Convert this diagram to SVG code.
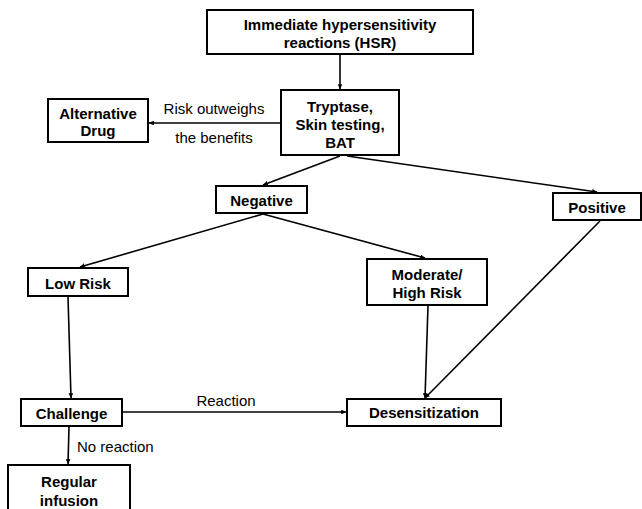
<svg xmlns="http://www.w3.org/2000/svg" width="642" height="509" viewBox="0 0 642 509">
<style>
.box{fill:#fff;stroke:#000;stroke-width:2}
.t{font-family:"Liberation Sans",Arial,sans-serif;font-size:15px;font-weight:bold;text-anchor:middle;fill:#000}
.l{font-family:"Liberation Sans",Arial,sans-serif;font-size:15px;fill:#000}
.c{fill:none;stroke:#000;stroke-width:1.6;marker-end:url(#ah)}
</style>
<defs>
<marker id="ah" viewBox="0 0 6 6" refX="6" refY="3" markerWidth="3" markerHeight="3" orient="auto" markerUnits="strokeWidth">
<path d="M0,0 L6,3 L0,6 z" fill="#000"/>
</marker>
</defs>
<rect width="642" height="509" fill="#fff"/>
<g id="connectors">
<line class="c" x1="340" y1="55" x2="340" y2="89"/>
<line class="c" x1="281" y1="123" x2="149" y2="123"/>
<line class="c" x1="340" y1="156" x2="263" y2="185"/>
<line class="c" x1="347" y1="156" x2="597" y2="192"/>
<line class="c" x1="263" y1="214" x2="80" y2="267"/>
<line class="c" x1="263" y1="214" x2="425" y2="258"/>
<line class="c" x1="600" y1="221" x2="425" y2="398"/>
<line class="c" x1="428" y1="306" x2="425" y2="398"/>
<line class="c" x1="68" y1="297" x2="71" y2="398"/>
<line class="c" x1="69" y1="427" x2="68" y2="464"/>
<line class="c" x1="123" y1="412" x2="346" y2="412"/>
<text class="l" x="214" y="114" text-anchor="middle">Risk outweighs</text>
<text class="l" x="214" y="143" text-anchor="middle">the benefits</text>
<text class="l" x="226" y="406" text-anchor="middle">Reaction</text>
<text class="l" x="77" y="452">No reaction</text>
</g>
<g id="hsr">
<rect class="box" x="207" y="10" width="266" height="44"/>
<text class="t" x="340" y="30">Immediate hypersensitivity</text>
<text class="t" x="340" y="48">reactions (HSR)</text>
</g>
<g id="tryptase">
<rect class="box" x="281" y="90" width="118" height="65"/>
<text class="t" x="340" y="112">Tryptase,</text>
<text class="t" x="340" y="130">Skin testing,</text>
<text class="t" x="340" y="148">BAT</text>
</g>
<g id="alternative">
<rect class="box" x="48" y="99" width="100" height="43"/>
<text class="t" x="98" y="119">Alternative</text>
<text class="t" x="98" y="136">Drug</text>
</g>
<g id="negative">
<rect class="box" x="216" y="186" width="91" height="27"/>
<text class="t" x="261.5" y="206">Negative</text>
</g>
<g id="positive">
<rect class="box" x="553" y="193" width="88" height="27"/>
<text class="t" x="597" y="213">Positive</text>
</g>
<g id="lowrisk">
<rect class="box" x="28" y="268" width="100" height="28"/>
<text class="t" x="78" y="289">Low Risk</text>
</g>
<g id="moderate">
<rect class="box" x="367" y="259" width="120" height="46"/>
<text class="t" x="427" y="280">Moderate/</text>
<text class="t" x="427" y="298">High Risk</text>
</g>
<g id="challenge">
<rect class="box" x="21" y="399" width="101" height="27"/>
<text class="t" x="71.5" y="419">Challenge</text>
</g>
<g id="desensitization">
<rect class="box" x="347" y="399" width="154" height="27"/>
<text class="t" x="424" y="418">Desensitization</text>
</g>
<g id="regular">
<rect class="box" x="8" y="465" width="122" height="50"/>
<text class="t" x="69" y="487">Regular</text>
<text class="t" x="69" y="506">infusion</text>
</g>
</svg>
